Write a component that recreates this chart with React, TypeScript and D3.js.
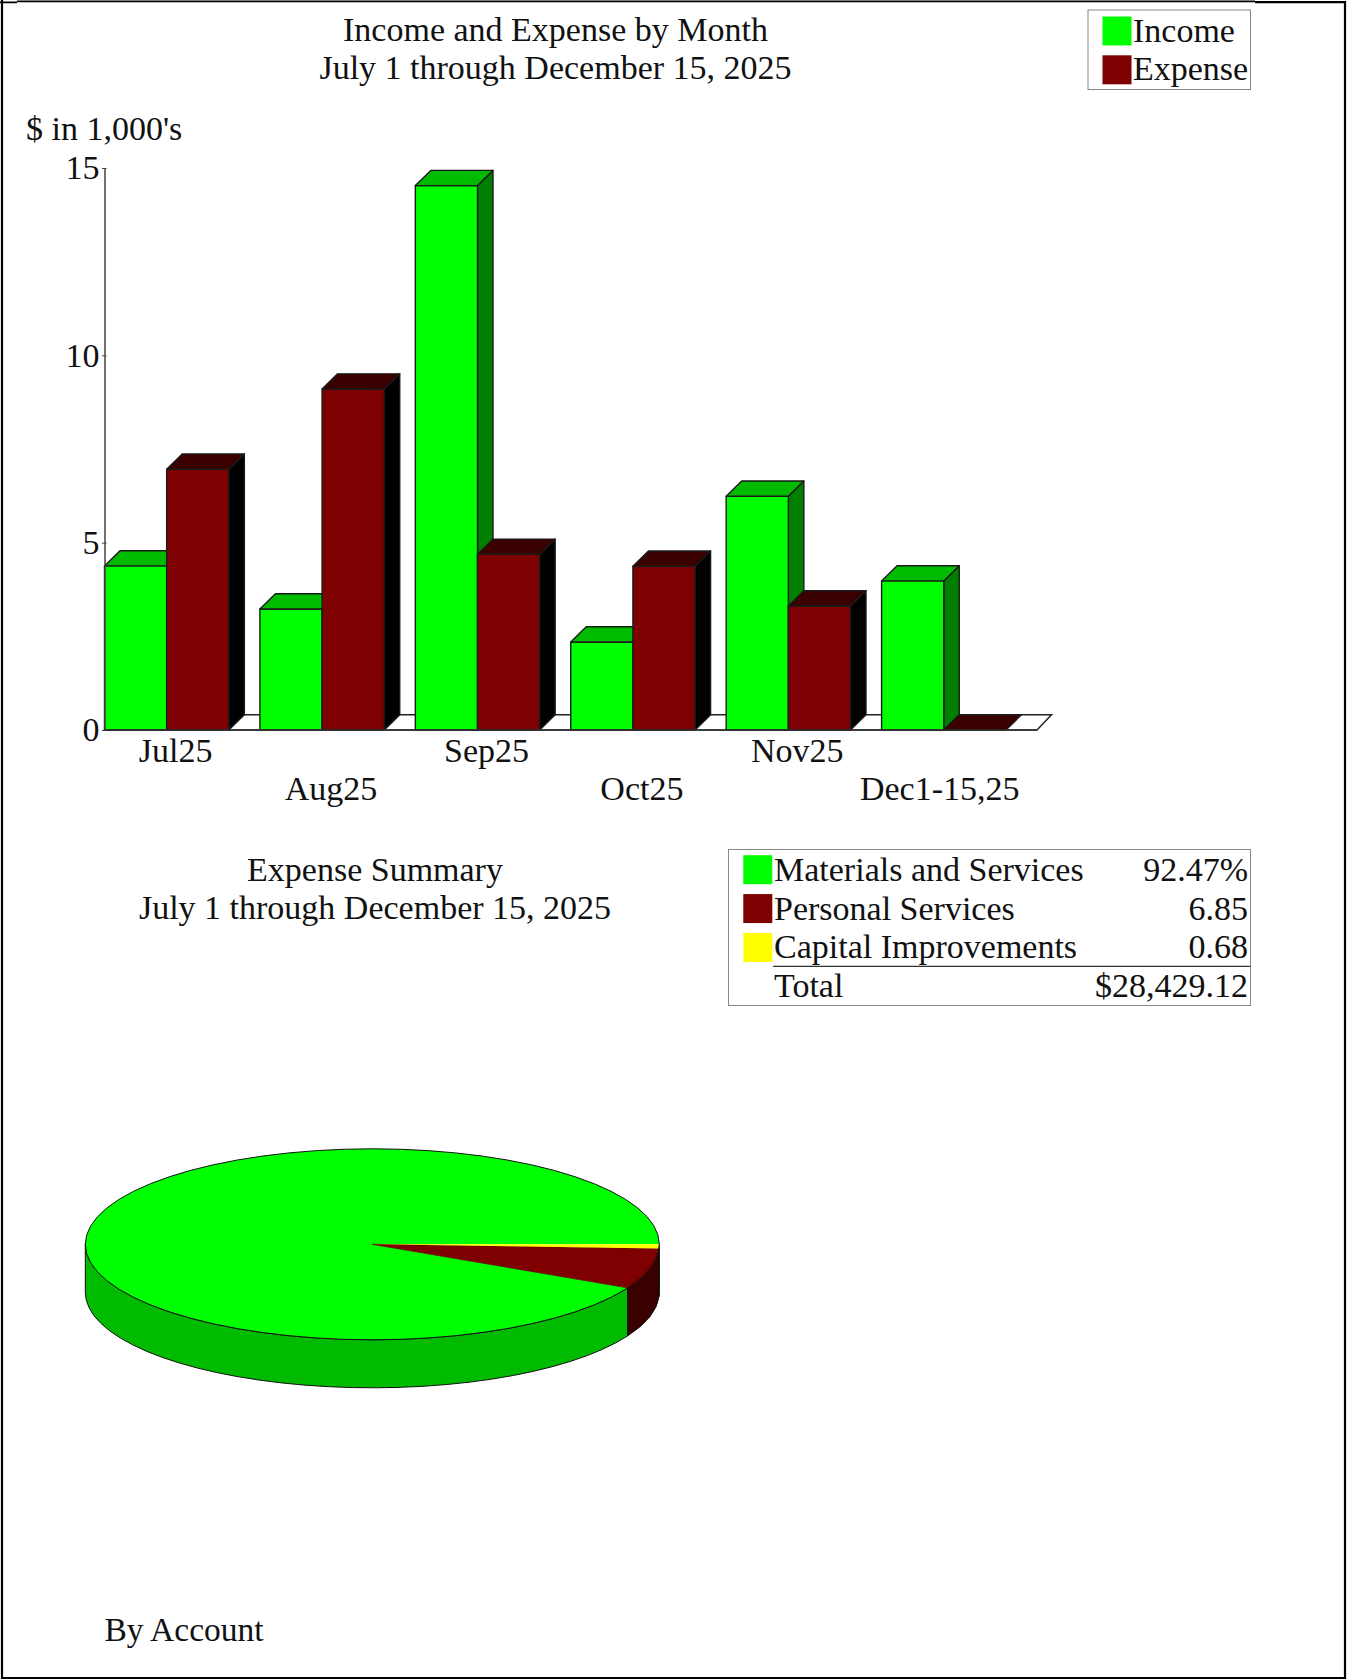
import React, { useEffect, useRef } from 'react';
import * as d3 from 'd3';

const months = ['Jul25', 'Aug25', 'Sep25', 'Oct25', 'Nov25', 'Dec1-15,25'];
const income = [4.38, 3.23, 14.53, 2.35, 6.24, 3.98];
const expense = [6.96, 9.1, 4.69, 4.37, 3.31, 0];
const yTicks = [0, 5, 10, 15];

const seriesNames = ['Income', 'Expense'];
const expenseCategories = ['Materials and Services', 'Personal Services', 'Capital Improvements'];
const expenseShares = [92.47, 6.85, 0.68];
const expenseLabels = ['92.47%', '6.85', '0.68'];

const FONT = '"Liberation Serif", "Times New Roman", serif';

// front, top and side colours of the fake 3D
const barColors = [
  { front: '#00ff00', top: '#00bb00', side: '#007f00' },
  { front: '#7f0000', top: '#3a0000', side: '#000000' },
];
const pieColors = [
  { top: '#00ff00', side: '#00bb00' },
  { top: '#7f0000', side: '#3a0000' },
  { top: '#ffff00', side: '#bbbb00' },
];

export default function App() {
  const svgRef = useRef<SVGSVGElement>(null);

  useEffect(() => {
    if (!svgRef.current) return;
    const svg = d3.select(svgRef.current);
    svg.selectAll('*').remove();

    const label = (x: number, y: number, s: string, size = 34, anchor = 'start') =>
      svg.append('text')
        .attr('x', x)
        .attr('y', y)
        .attr('font-size', size)
        .attr('text-anchor', anchor)
        .attr('fill', '#111')
        .text(s);

    // page frame
    svg.append('path')
      .attr('d', 'M2,0V1678H1345V2.2H1255')
      .attr('fill', 'none').attr('stroke', '#000').attr('stroke-width', 2.2);
    svg.append('path')
      .attr('d', 'M0,2.4H17M17,1.4H1255')
      .attr('fill', 'none').attr('stroke', '#000').attr('stroke-width', 1.6);

    // titles
    label(555.5, 40.6, 'Income and Expense by Month', 34, 'middle');
    label(555.5, 79, 'July 1 through December 15, 2025', 34, 'middle');
    label(26, 140, "$ in 1,000's");

    // income/expense legend
    svg.append('rect')
      .attr('x', 1088).attr('y', 10).attr('width', 162.5).attr('height', 79.5)
      .attr('fill', '#fff').attr('stroke', '#888').attr('stroke-width', 1);
    seriesNames.forEach((name, i) => {
      svg.append('rect')
        .attr('x', 1102.5).attr('y', 16.5 + i * 38.8).attr('width', 29).attr('height', 29)
        .attr('fill', barColors[i].front);
      label(1133, 41.5 + i * 38.5, name);
    });

    // bar chart
    const y = d3.scaleLinear().domain([0, 15]).range([730, 168]);
    const x0 = d3.scaleBand<string>()
      .domain(months)
      .range([104.5, 1037])
      .paddingInner(0.2)
      .paddingOuter(0.1)
      .align(0);
    const x1 = d3.scaleBand<string>().domain(seriesNames).range([0, x0.bandwidth()]);
    const dx = 15.5;
    const dy = 15.2;

    // floor
    const floorLine = d3.line();
    svg.append('path')
      .attr('d', floorLine([
        [104.5, y(0)],
        [1037, y(0)],
        [1037 + dx - 1, y(0) - dy],
        [104.5 + dx, y(0) - dy],
      ]) + 'Z')
      .attr('fill', '#fff').attr('stroke', '#222').attr('stroke-width', 1.5);

    const barGroups = svg.append('g').attr('stroke', '#1a1a1a').attr('stroke-width', 1.4).attr('stroke-linejoin', 'round');
    months.forEach((m, i) => {
      [income[i], expense[i]].forEach((v, s) => {
        const left = (x0(m) as number) + (x1(seriesNames[s]) as number);
        const right = left + x1.bandwidth();
        const top = y(v);
        const base = y(0);
        const col = barColors[s];
        const g = barGroups.append('g');
        if (v > 0) {
          g.append('path')
            .attr('d', floorLine([[right, top], [right + dx, top - dy], [right + dx, base - dy], [right, base]]) + 'Z')
            .attr('fill', col.side);
          g.append('rect')
            .attr('x', left).attr('y', top).attr('width', right - left).attr('height', base - top)
            .attr('fill', col.front);
        }
        g.append('path')
          .attr('d', floorLine([[left, top], [left + dx, top - dy], [right + dx, top - dy], [right, top]]) + 'Z')
          .attr('fill', col.top);
      });
    });

    // y axis
    const yAxis = svg.append('g')
      .attr('transform', 'translate(104.5,0)')
      .call(d3.axisLeft(y).tickValues(yTicks).tickFormat(d3.format('d')).tickSizeInner(3).tickSizeOuter(0).tickPadding(2));
    yAxis.selectAll('.domain').attr('stroke', '#444').attr('stroke-width', 1.5);
    yAxis.selectAll('.tick line').attr('stroke', '#444').attr('x2', 2).attr('x1', -2.5);
    yAxis.selectAll('.tick text')
      .attr('font-family', FONT).attr('font-size', 34).attr('fill', '#111');
    svg.append('line')
      .attr('x1', 104.5).attr('x2', 1037).attr('y1', y(0)).attr('y2', y(0))
      .attr('stroke', '#333').attr('stroke-width', 1.5);

    // staggered month labels, the long last one is pulled back a bit
    months.forEach((m, i) => {
      const cx = (x0(m) as number) + x0.bandwidth() / 2 + 9;
      label(i === months.length - 1 ? cx - 13 : cx, i % 2 === 0 ? 761.7 : 800, m, 34, 'middle');
    });

    // expense summary
    label(375, 880.5, 'Expense Summary', 34, 'middle');
    label(375, 918.5, 'July 1 through December 15, 2025', 34, 'middle');

    svg.append('rect')
      .attr('x', 728.5).attr('y', 849.5).attr('width', 522).attr('height', 156)
      .attr('fill', '#fff').attr('stroke', '#888').attr('stroke-width', 1);
    const rowY = d3.scalePoint<string>()
      .domain([...expenseCategories, 'Total'])
      .range([880.7, 997.3]);
    expenseCategories.forEach((name, i) => {
      svg.append('rect')
        .attr('x', 743.3).attr('y', (rowY(name) as number) - 25.5).attr('width', 29).attr('height', 29)
        .attr('fill', pieColors[i].top);
      label(774, rowY(name) as number, name);
      label(1248, rowY(name) as number, expenseLabels[i], 34, 'end');
    });
    label(774, rowY('Total') as number, 'Total');
    label(1248, rowY('Total') as number, '$28,429.12', 34, 'end');
    svg.append('line')
      .attr('x1', 773).attr('x2', 1250.5).attr('y1', 966.3).attr('y2', 966.3)
      .attr('stroke', '#333').attr('stroke-width', 1.2);

    // pie, counterclockwise from east
    const cx = 372.3;
    const cy = 1244.3;
    const rx = 287;
    const ry = 95.5;
    const depth = 48;
    const pie = d3.pie<number>()
      .value(d => d)
      .sort(null)
      .startAngle(Math.PI / 2)
      .endAngle(Math.PI / 2 - 2 * Math.PI);
    const slices = pie(expenseShares);
    const px = (a: number) => cx + rx * Math.sin(a);
    const py = (a: number) => cy - ry * Math.cos(a);

    // side walls: only the front half of the ellipse shows
    const front: [number, number] = [Math.PI / 2, (3 * Math.PI) / 2];
    slices.forEach((s, i) => {
      const lo = Math.min(s.startAngle, s.endAngle);
      const hi = Math.max(s.startAngle, s.endAngle);
      [0, 2 * Math.PI].forEach(shift => {
        const a0 = Math.max(lo + shift, front[0]);
        const a1 = Math.min(hi + shift, front[1]);
        if (a1 <= a0) return;
        svg.append('path')
          .attr('d', `M${px(a0)},${py(a0)}A${rx},${ry} 0 0 1 ${px(a1)},${py(a1)}` +
            `L${px(a1)},${py(a1) + depth}A${rx},${ry} 0 0 0 ${px(a0)},${py(a0) + depth}Z`)
          .attr('fill', pieColors[i].side)
          .attr('stroke', '#111').attr('stroke-width', 1);
      });
    });

    const arc = d3.arc<d3.PieArcDatum<number>>().innerRadius(0).outerRadius(rx);
    svg.append('g')
      .attr('transform', `translate(${cx},${cy}) scale(1,${ry / rx})`)
      .selectAll('path')
      .data(slices)
      .enter()
      .append('path')
      .attr('d', arc)
      .attr('fill', (d, i) => pieColors[i].top)
      .attr('stroke', (d, i) => (i === 1 ? '#5a0000' : 'none'))
      .attr('stroke-width', 0.8)
      .attr('vector-effect', 'non-scaling-stroke');
    svg.append('ellipse')
      .attr('cx', cx).attr('cy', cy).attr('rx', rx).attr('ry', ry)
      .attr('fill', 'none').attr('stroke', '#111').attr('stroke-width', 1);

    label(104.5, 1640.5, 'By Account', 33.5);
  }, []);

  return (
    <svg
      ref={svgRef}
      width={1347}
      height={1680}
      fontFamily={FONT}
      style={{ position: 'absolute', left: 0, top: 0, background: '#fff' }}
    />
  );
}
